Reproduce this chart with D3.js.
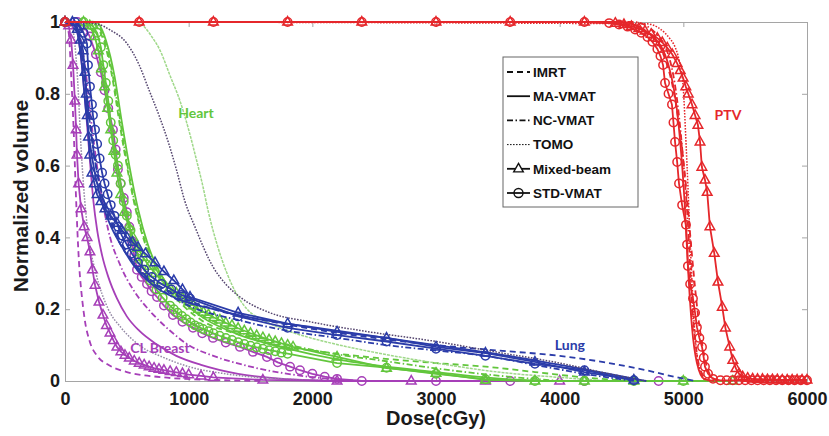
<!DOCTYPE html>
<html>
<head>
<meta charset="utf-8">
<script src="https://cdn.jsdelivr.net/npm/d3@7"></script>
<style>
  body { margin: 0; background: #fff; }
  svg { display: block; }
</style>
</head>
<body>
<svg id="chart" width="829" height="436"></svg>
<script>
// ticks
var xTicks = [0, 1000, 2000, 3000, 4000, 5000, 6000];
var yTicks = [0, 0.2, 0.4, 0.6, 0.8, 1];

var techniques = ['IMRT', 'MA-VMAT', 'NC-VMAT', 'TOMO', 'Mixed-beam', 'STD-VMAT'];
var structures = ['CL Breast', 'Heart', 'Lung', 'PTV'];

// DVH points: [dose cGy, normalized volume]
// ---- CL Breast
var clIMRT = [[0,1],[30,0.97],[50,0.85],[70,0.7],[85,0.55],[100,0.42],[115,0.32],[135,0.24],[160,0.17],[200,0.11],[260,0.07],[350,0.045],[500,0.025],[800,0.01],[1200,0.003],[1600,0]];
var clMA = [[0,1],[80,0.99],[130,0.9],[170,0.75],[200,0.62],[230,0.5],[260,0.42],[300,0.35],[350,0.29],[420,0.23],[500,0.18],[600,0.14],[750,0.1],[900,0.07],[1100,0.045],[1400,0.02],[1800,0.005],[2200,0]];
var clNC = [[0,1],[100,0.98],[160,0.88],[220,0.7],[280,0.55],[350,0.42],[450,0.32],[560,0.25],[700,0.19],[850,0.14],[1000,0.1],[1200,0.07],[1500,0.04],[1900,0.015],[2400,0]];
var clTOMO = [[0,1],[60,0.98],[100,0.85],[130,0.65],[160,0.5],[200,0.38],[250,0.3],[350,0.2],[450,0.15],[600,0.1],[800,0.065],[1000,0.04],[1300,0.02],[1800,0.005],[2400,0]];
var clMixed = [[0,1],[30,0.99],[50,0.95],[65,0.88],[80,0.78],[90,0.7],[97,0.63],[110,0.55],[130,0.48],[155,0.43],[178,0.4],[202,0.36],[222,0.31],[243,0.267],[275,0.22],[307,0.184],[335,0.155],[364,0.134],[392,0.113],[420,0.095],[452,0.082],[485,0.072],[520,0.064],[560,0.056],[600,0.05],[640,0.045],[680,0.04],[720,0.036],[760,0.033],[800,0.03],[850,0.027],[900,0.024],[950,0.021],[1000,0.018],[1100,0.014],[1200,0.01],[1600,0.003],[2200,0],[2800,0],[3400,0],[4000,0]];
var clSTD = [[0,1],[100,1],[150,0.99],[200,0.96],[250,0.91],[290,0.86],[320,0.81],[350,0.76],[388,0.7],[410,0.645],[428,0.59],[450,0.55],[475,0.51],[500,0.47],[520,0.43],[541,0.39],[560,0.35],[582,0.31],[620,0.29],[663,0.27],[700,0.25],[744,0.234],[800,0.21],[873,0.184],[950,0.165],[1035,0.148],[1110,0.133],[1197,0.12],[1300,0.107],[1415,0.095],[1520,0.081],[1633,0.067],[1720,0.052],[1820,0.04],[1900,0.03],[2000,0.02],[2100,0.012],[2200,0.006],[2400,0],[3000,0],[3600,0],[4200,0],[4800,0]];

// ---- Heart
var heartIMRT = [[0,1],[200,1],[300,0.96],[380,0.85],[440,0.72],[500,0.6],[570,0.48],[650,0.38],[750,0.3],[900,0.23],[1100,0.17],[1400,0.13],[1700,0.1],[2000,0.085],[2500,0.065],[3000,0.05],[3400,0.04],[3800,0.025],[4200,0.01],[4600,0]];
var heartMA = [[0,1],[250,1],[330,0.95],[400,0.85],[460,0.72],[520,0.6],[590,0.48],[670,0.38],[770,0.3],[900,0.24],[1100,0.18],[1400,0.13],[1800,0.09],[2200,0.06],[2600,0.04],[3000,0.025],[3400,0.01],[3800,0]];
var heartNC = [[0,1],[220,1],[300,0.97],[370,0.88],[430,0.76],[490,0.63],[550,0.52],[620,0.42],[720,0.33],[850,0.26],[1000,0.21],[1300,0.15],[1700,0.11],[2100,0.08],[2600,0.055],[3000,0.035],[3500,0.015],[4000,0]];
var heartTOMO = [[0,1],[560,1],[631,0.99],[700,0.96],[770,0.92],[850,0.85],[930,0.78],[1000,0.7],[1060,0.62],[1110,0.55],[1160,0.47],[1230,0.38],[1310,0.3],[1391,0.24],[1472,0.2],[1600,0.17],[1800,0.14],[2100,0.11],[2500,0.08],[3000,0.05],[3500,0.025],[4000,0.01],[4400,0]];
var heartMixed = [[0,1],[150,1],[200,0.99],[240,0.96],[270,0.92],[295,0.87],[320,0.82],[345,0.76],[370,0.7],[395,0.64],[420,0.58],[450,0.52],[480,0.47],[515,0.43],[550,0.4],[590,0.37],[630,0.345],[680,0.32],[730,0.3],[780,0.28],[849,0.26],[900,0.245],[950,0.232],[1000,0.22],[1040,0.21],[1080,0.2],[1120,0.192],[1160,0.185],[1205,0.177],[1253,0.17],[1300,0.162],[1350,0.155],[1400,0.147],[1450,0.14],[1500,0.133],[1550,0.127],[1600,0.121],[1650,0.115],[1700,0.11],[1750,0.105],[1800,0.1],[1844,0.095],[2200,0.067],[2600,0.036],[3000,0.022],[3400,0.003],[3800,0],[4200,0],[4600,0],[5000,0],[5400,0]];
var heartSTD = [[0,1],[150,1],[220,0.99],[260,0.97],[290,0.93],[310,0.88],[330,0.83],[350,0.78],[370,0.72],[390,0.67],[410,0.63],[428,0.6],[450,0.55],[475,0.5],[500,0.46],[530,0.42],[566,0.373],[600,0.34],[640,0.31],[690,0.28],[740,0.255],[790,0.232],[849,0.21],[880,0.2],[910,0.19],[945,0.181],[980,0.172],[1015,0.163],[1050,0.155],[1085,0.15],[1116,0.145],[1160,0.139],[1200,0.133],[1250,0.126],[1300,0.12],[1350,0.114],[1400,0.108],[1450,0.103],[1500,0.098],[1550,0.094],[1600,0.09],[1650,0.086],[1700,0.083],[1750,0.079],[1800,0.076],[2200,0.05],[2600,0.037],[3000,0.02],[3400,0.005],[3800,0],[4200,0],[4600,0],[5000,0]];

// ---- Lung
var lungIMRT = [[0,1],[100,0.97],[150,0.88],[200,0.72],[260,0.58],[330,0.48],[420,0.4],[550,0.33],[700,0.28],[900,0.24],[1200,0.2],[1600,0.17],[2000,0.145],[2500,0.12],[3000,0.1],[3500,0.085],[4000,0.07],[4400,0.05],[4700,0.03],[4950,0.01],[5100,0]];
var lungMA = [[0,1],[80,0.99],[130,0.9],[170,0.75],[220,0.62],[280,0.52],[360,0.44],[450,0.38],[560,0.32],[700,0.27],[900,0.23],[1200,0.2],[1600,0.17],[2000,0.15],[2500,0.125],[3000,0.1],[3500,0.075],[4000,0.045],[4400,0.02],[4700,0]];
var lungNC = [[0,1],[90,0.99],[140,0.9],[180,0.78],[230,0.64],[300,0.52],[380,0.44],[480,0.37],[600,0.31],[800,0.25],[1000,0.21],[1400,0.17],[1800,0.14],[2200,0.12],[2600,0.1],[3000,0.085],[3400,0.07],[3800,0.045],[4200,0.02],[4600,0]];
var lungTOMO = [[0,1],[250,0.995],[364,0.978],[501,0.94],[600,0.88],[680,0.81],[760,0.74],[840,0.66],[900,0.59],[970,0.5],[1050,0.43],[1197,0.318],[1300,0.27],[1415,0.234],[1658,0.19],[1981,0.165],[2400,0.14],[3000,0.11],[3500,0.08],[4000,0.05],[4400,0.02],[4700,0]];
var lungMixed = [[0,1],[60,1],[100,0.98],[125,0.95],[146,0.92],[162,0.86],[172,0.8],[180,0.74],[190,0.68],[200,0.63],[218,0.58],[238,0.55],[259,0.52],[290,0.5],[323,0.48],[370,0.46],[420,0.44],[460,0.42],[501,0.4],[545,0.387],[590,0.373],[650,0.355],[728,0.33],[800,0.305],[880,0.28],[950,0.255],[1011,0.234],[1400,0.19],[1800,0.16],[2200,0.137],[2600,0.12],[3000,0.095],[3400,0.078],[3800,0.053],[4200,0.025],[4600,0.003]];
var lungSTD = [[0,1],[80,1],[120,0.99],[150,0.97],[178,0.94],[186,0.88],[202,0.82],[218,0.77],[226,0.74],[243,0.7],[260,0.66],[280,0.62],[300,0.58],[320,0.55],[345,0.52],[370,0.49],[400,0.46],[430,0.43],[460,0.405],[500,0.38],[540,0.355],[590,0.33],[640,0.31],[700,0.29],[780,0.27],[860,0.255],[940,0.24],[1011,0.23],[1400,0.18],[1800,0.148],[2200,0.128],[2600,0.11],[3000,0.09],[3400,0.07],[3800,0.048],[4200,0.03],[4600,0.002]];

// ---- PTV
var ptvIMRT = [[0,1],[4400,1],[4700,0.97],[4850,0.9],[4950,0.75],[5020,0.55],[5070,0.35],[5120,0.18],[5170,0.07],[5230,0.01],[5300,0]];
var ptvMA = [[0,1],[4500,1],[4750,0.96],[4880,0.88],[4960,0.72],[5010,0.5],[5040,0.3],[5070,0.15],[5110,0.05],[5170,0.005],[5250,0]];
var ptvNC = [[0,1],[4600,1],[4800,0.96],[4920,0.85],[4990,0.65],[5040,0.42],[5070,0.22],[5100,0.1],[5140,0.03],[5200,0]];
var ptvTOMO = [[0,1],[4700,0.995],[4900,0.95],[4990,0.85],[5030,0.6],[5060,0.35],[5090,0.15],[5120,0.05],[5180,0]];
var ptvMixed = [[0,1],[600,1],[1200,1],[1800,1],[2400,1],[3000,1],[3600,1],[4200,1],[4450,0.997],[4520,0.993],[4580,0.988],[4640,0.982],[4690,0.975],[4740,0.966],[4790,0.955],[4830,0.943],[4870,0.928],[4910,0.91],[4950,0.885],[4975,0.865],[4998,0.844],[5020,0.82],[5040,0.8],[5070,0.77],[5095,0.74],[5118,0.713],[5135,0.666],[5150,0.596],[5175,0.56],[5193,0.526],[5215,0.43],[5250,0.356],[5280,0.276],[5315,0.206],[5340,0.148],[5375,0.095],[5400,0.058],[5425,0.035],[5450,0.02],[5480,0.012],[5520,0.008],[5560,0.006],[5600,0.005],[5640,0.005],[5680,0.004],[5720,0.004],[5760,0.004],[5800,0.003],[5840,0.003],[5880,0.003],[5920,0.003],[5960,0.003],[6000,0.003]];
var ptvSTD = [[0,1],[600,1],[1200,1],[1800,1],[2400,1],[3000,1],[3600,1],[4200,1],[4400,0.997],[4480,0.993],[4550,0.987],[4610,0.979],[4660,0.97],[4710,0.958],[4750,0.945],[4790,0.925],[4815,0.905],[4836,0.88],[4852,0.83],[4880,0.8],[4908,0.77],[4920,0.72],[4933,0.666],[4950,0.61],[4965,0.55],[4990,0.49],[5021,0.435],[5030,0.38],[5037,0.32],[5055,0.27],[5078,0.23],[5095,0.19],[5110,0.15],[5130,0.12],[5151,0.095],[5165,0.065],[5175,0.04],[5200,0.02],[5240,0.006],[5300,0.002],[5350,0.002],[5400,0.002],[5450,0.002],[5500,0.002],[5550,0.002],[5600,0.002],[5650,0.002],[5700,0.002],[5750,0.002],[5800,0.002],[5850,0.002],[5900,0.002],[5950,0.002],[6000,0.002]];

var curves = [
  { s: 'CL Breast', t: 'IMRT', pts: clIMRT }, { s: 'CL Breast', t: 'MA-VMAT', pts: clMA },
  { s: 'CL Breast', t: 'NC-VMAT', pts: clNC }, { s: 'CL Breast', t: 'TOMO', pts: clTOMO },
  { s: 'CL Breast', t: 'Mixed-beam', pts: clMixed }, { s: 'CL Breast', t: 'STD-VMAT', pts: clSTD },
  { s: 'Heart', t: 'IMRT', pts: heartIMRT }, { s: 'Heart', t: 'MA-VMAT', pts: heartMA },
  { s: 'Heart', t: 'NC-VMAT', pts: heartNC }, { s: 'Heart', t: 'TOMO', pts: heartTOMO },
  { s: 'Heart', t: 'Mixed-beam', pts: heartMixed }, { s: 'Heart', t: 'STD-VMAT', pts: heartSTD },
  { s: 'Lung', t: 'IMRT', pts: lungIMRT }, { s: 'Lung', t: 'MA-VMAT', pts: lungMA },
  { s: 'Lung', t: 'NC-VMAT', pts: lungNC }, { s: 'Lung', t: 'TOMO', pts: lungTOMO },
  { s: 'Lung', t: 'Mixed-beam', pts: lungMixed }, { s: 'Lung', t: 'STD-VMAT', pts: lungSTD },
  { s: 'PTV', t: 'IMRT', pts: ptvIMRT }, { s: 'PTV', t: 'MA-VMAT', pts: ptvMA },
  { s: 'PTV', t: 'NC-VMAT', pts: ptvNC }, { s: 'PTV', t: 'TOMO', pts: ptvTOMO },
  { s: 'PTV', t: 'Mixed-beam', pts: ptvMixed }, { s: 'PTV', t: 'STD-VMAT', pts: ptvSTD }
];

// styles kept apart from data
var structColor = { 'CL Breast': '#a63fb8', 'Heart': '#62c63c', 'Lung': '#2b3ca9', 'PTV': '#e5272b' };
// TOMO lines look different in the figure
var tomoColor = { 'CL Breast': '#958aa6', 'Heart': '#9fd889', 'Lung': '#55466f', 'PTV': '#e5272b' };
var techDash = { 'IMRT': '6,4', 'MA-VMAT': null, 'NC-VMAT': '6,2.5,1.5,2.5', 'TOMO': '1.6,1.4', 'Mixed-beam': null, 'STD-VMAT': null };
var techMarker = { 'Mixed-beam': 'tri', 'STD-VMAT': 'circ' };

var svg = d3.select('#chart');
var x = d3.scaleLinear().domain([0, 6000]).range([65, 807]);
var y = d3.scaleLinear().domain([0, 1]).range([381, 22]);

var axisCol = '#a5a5a5';
var tickFont = '"Liberation Sans", Arial, sans-serif';

// axes, MATLAB style box with inward ticks
function styleAxis(g) {
    g.select('.domain').attr('stroke', axisCol);
    g.selectAll('.tick line').attr('stroke', axisCol);
    g.selectAll('.tick text').attr('fill', '#1a1a1a').style('font-family', tickFont)
        .style('font-weight', 'bold').style('font-size', '18px');
}
svg.append('g').attr('transform', 'translate(0,381)')
    .call(d3.axisBottom(x).tickValues(xTicks).tickSizeInner(-5).tickSizeOuter(0).tickPadding(11).tickFormat(d3.format('d')))
    .call(styleAxis);
svg.append('g').attr('transform', 'translate(0,22)')
    .call(d3.axisTop(x).tickValues(xTicks).tickSizeInner(-5).tickSizeOuter(0).tickFormat(''))
    .call(styleAxis);
svg.append('g').attr('transform', 'translate(65,0)')
    .call(d3.axisLeft(y).tickValues(yTicks).tickSizeInner(-5).tickSizeOuter(0).tickPadding(5).tickFormat(d => d))
    .call(styleAxis);
svg.append('g').attr('transform', 'translate(807,0)')
    .call(d3.axisRight(y).tickValues(yTicks).tickSizeInner(-5).tickSizeOuter(0).tickFormat(''))
    .call(styleAxis);

svg.append('text').attr('x', 436).attr('y', 425).attr('text-anchor', 'middle')
    .style('font-family', tickFont).style('font-weight', 'bold').style('font-size', '20px')
    .attr('fill', '#1a1a1a').text('Dose(cGy)');
svg.append('text').attr('transform', 'translate(28,196) rotate(-90)').attr('text-anchor', 'middle')
    .style('font-family', tickFont).style('font-weight', 'bold').style('font-size', '21px')
    .attr('fill', '#1a1a1a').text('Normalized volume');

var trianglePath = 'M0,-5.4L4.8,3.1L-4.8,3.1Z';

var plot = svg.append('g');
curves.forEach(c => {
    var col = c.t === 'TOMO' ? tomoColor[c.s] : structColor[c.s];
    var mk = techMarker[c.t];
    var line = d3.line().x(d => x(d[0])).y(d => y(d[1]))
        .curve(mk ? d3.curveLinear : d3.curveMonotoneX);
    var g = plot.append('g');
    var dash = techDash[c.t];
    if (c.t === 'TOMO' && c.s === 'Heart') dash = '3,1';
    g.append('path').datum(c.pts).attr('d', line)
        .attr('fill', 'none').attr('stroke', col)
        .attr('stroke-width', c.t === 'TOMO' ? 1.5 : 1.8)
        .attr('stroke-dasharray', dash);
    if (mk === 'circ') {
        g.selectAll('circle').data(c.pts).enter().append('circle')
            .attr('cx', d => x(d[0])).attr('cy', d => y(d[1])).attr('r', 4.2)
            .attr('fill', 'none').attr('stroke', col).attr('stroke-width', 1.5);
    } else if (mk === 'tri') {
        g.selectAll('path.m').data(c.pts).enter().append('path').attr('class', 'm')
            .attr('d', trianglePath)
            .attr('transform', d => 'translate(' + x(d[0]) + ',' + y(d[1]) + ')')
            .attr('fill', 'none').attr('stroke', col).attr('stroke-width', 1.5);
    }
});

// structure names
var annoFont = 'Lato, "Open Sans", sans-serif';
var annos = [['Heart', 1059, 0.746], ['PTV', 5361, 0.741], ['Lung', 4083, 0.1], ['CL Breast', 768, 0.092]];
annos.forEach(a => {
    svg.append('text').attr('x', x(a[1])).attr('y', y(a[2])).attr('dy', '0.35em')
        .attr('text-anchor', 'middle').attr('fill', structColor[a[0]])
        .style('font-family', annoFont).style('font-weight', 'bold').style('font-size', '14px')
        .text(a[0]);
});

// legend
var lg = svg.append('g').attr('transform', 'translate(503,57)');
lg.append('rect').attr('width', 135).attr('height', 150)
    .attr('fill', '#fff').attr('stroke', '#666').attr('stroke-width', 1);
techniques.forEach((t, i) => {
    var yy = 15 + i * 24.2;
    var row = lg.append('g').attr('transform', 'translate(0,' + yy + ')');
    row.append('line').attr('x1', 4).attr('x2', 27).attr('y1', 0).attr('y2', 0)
        .attr('stroke', '#111').attr('stroke-width', t === 'TOMO' ? 1 : 1.8)
        .attr('stroke-dasharray', techDash[t]);
    if (techMarker[t] === 'tri') {
        row.append('path').attr('d', trianglePath).attr('transform', 'translate(15.5,0)')
            .attr('fill', '#fff').attr('stroke', '#111').attr('stroke-width', 1.4);
    } else if (techMarker[t] === 'circ') {
        row.append('circle').attr('cx', 15.5).attr('cy', 0).attr('r', 4.5)
            .attr('fill', 'none').attr('stroke', '#111').attr('stroke-width', 1.4);
    }
    row.append('text').attr('x', 30).attr('y', 0).attr('dy', '0.35em')
        .style('font-family', tickFont).style('font-weight', 'bold').style('font-size', '13.5px')
        .attr('fill', '#111').text(t);
});
</script>
</body>
</html>
